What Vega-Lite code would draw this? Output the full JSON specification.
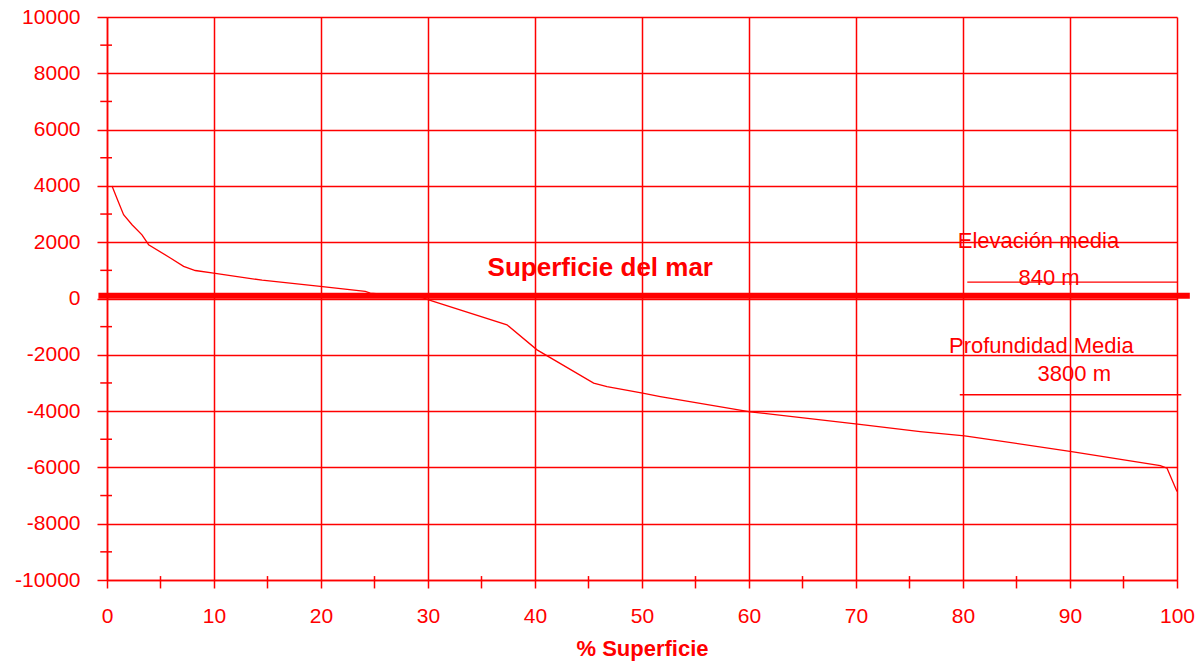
{
  "$schema": "https://vega.github.io/schema/vega-lite/v6.json",
  "width": 1070,
  "height": 563,
  "autosize": {"type": "none"},
  "padding": {"left": 107, "top": 17, "right": 18, "bottom": 83},
  "background": "white",
  "config": {"view": {"stroke": null}, "font": "Liberation Sans"},
  "datasets": {
    "hypsometric": [
      {"pct": 0.47, "elev": 4000},
      {"pct": 0.99, "elev": 3500},
      {"pct": 1.55, "elev": 2975},
      {"pct": 2.34, "elev": 2620},
      {"pct": 3.27, "elev": 2260},
      {"pct": 3.89, "elev": 1910},
      {"pct": 5.92, "elev": 1440},
      {"pct": 7.16, "elev": 1140},
      {"pct": 8.25, "elev": 995},
      {"pct": 9.96, "elev": 900},
      {"pct": 14.5, "elev": 650},
      {"pct": 19.93, "elev": 430},
      {"pct": 24.14, "elev": 250},
      {"pct": 24.6, "elev": 190},
      {"pct": 29.5, "elev": 30},
      {"pct": 30.06, "elev": -46},
      {"pct": 37.38, "elev": -935},
      {"pct": 40.19, "elev": -1824},
      {"pct": 45.48, "elev": -3007},
      {"pct": 46.73, "elev": -3128},
      {"pct": 50.06, "elev": -3362},
      {"pct": 51.71, "elev": -3483},
      {"pct": 60.12, "elev": -4027},
      {"pct": 70.15, "elev": -4464},
      {"pct": 76.0, "elev": -4727},
      {"pct": 80.15, "elev": -4880},
      {"pct": 90.15, "elev": -5438},
      {"pct": 98.44, "elev": -5936},
      {"pct": 99.07, "elev": -6028},
      {"pct": 100, "elev": -6860}
    ],
    "minorY": [
      {"v": -9000}, {"v": -7000}, {"v": -5000}, {"v": -3000}, {"v": -1000},
      {"v": 1000}, {"v": 3000}, {"v": 5000}, {"v": 7000}, {"v": 9000}
    ],
    "minorX": [
      {"v": 5}, {"v": 15}, {"v": 25}, {"v": 35}, {"v": 45},
      {"v": 55}, {"v": 65}, {"v": 75}, {"v": 85}, {"v": 95}
    ],
    "means": [
      {"x": 80.4, "x2": 100, "y": 580},
      {"x": 79.7, "x2": 100.4, "y": -3420}
    ],
    "notes": [
      {"x": 87.05, "y": 2030, "label": "Elevación media"},
      {"x": 88.04, "y": 740, "label": "840 m"},
      {"x": 87.32, "y": -1680, "label": "Profundidad Media"},
      {"x": 90.4, "y": -2680, "label": "3800 m"}
    ],
    "sea": [
      {"x": 46.1, "y": 1080, "label": "Superficie del mar", "x1": -0.8, "x2": 101.2, "level": 100}
    ]
  },
  "layer": [
    {
      "data": {"name": "hypsometric"},
      "mark": {"type": "line", "color": "#ff0000", "strokeWidth": 1.3},
      "encoding": {
        "x": {
          "field": "pct", "type": "quantitative",
          "scale": {"domain": [0, 100], "nice": false, "zero": false},
          "axis": {
            "values": [0, 10, 20, 30, 40, 50, 60, 70, 80, 90, 100],
            "grid": true, "gridColor": "#ff0000", "gridWidth": 1.5, "gridOpacity": 1,
            "domainColor": "#ff0000", "domainWidth": 1.5,
            "tickColor": "#ff0000", "tickSize": 8, "tickWidth": 1.5,
            "labelColor": "#ff0000", "labelFont": "Liberation Sans", "labelFontSize": 21,
            "labelPadding": 17, "labelFlush": false,
            "title": "% Superficie", "titleColor": "#ff0000", "titleFont": "Liberation Sans",
            "titleFontSize": 22, "titleFontWeight": "bold", "titlePadding": 12
          }
        },
        "y": {
          "field": "elev", "type": "quantitative",
          "scale": {"domain": [-10000, 10000], "nice": false, "zero": false},
          "axis": {
            "values": [-10000, -8000, -6000, -4000, -2000, 0, 2000, 4000, 6000, 8000, 10000],
            "labelExpr": "'' + datum.value",
            "grid": true, "gridColor": "#ff0000", "gridWidth": 1.5, "gridOpacity": 1,
            "domainColor": "#ff0000", "domainWidth": 1.5,
            "tickColor": "#ff0000", "tickSize": 10, "tickWidth": 1.5,
            "labelColor": "#ff0000", "labelFont": "Liberation Sans", "labelFontSize": 21,
            "labelPadding": 17, "labelFlush": false,
            "title": null
          }
        }
      }
    },
    {
      "data": {"name": "minorY"},
      "mark": {"type": "rule", "color": "#ff0000", "strokeWidth": 1.5},
      "encoding": {
        "y": {"field": "v", "type": "quantitative"},
        "x": {"datum": -0.63, "type": "quantitative"},
        "x2": {"datum": 0.47}
      }
    },
    {
      "data": {"name": "minorX"},
      "mark": {"type": "rule", "color": "#ff0000", "strokeWidth": 1.5},
      "encoding": {
        "x": {"field": "v", "type": "quantitative"},
        "y": {"datum": -10300, "type": "quantitative"},
        "y2": {"datum": -9860}
      }
    },
    {
      "data": {"name": "means"},
      "mark": {"type": "rule", "color": "#ff0000", "strokeWidth": 1.3},
      "encoding": {
        "x": {"field": "x", "type": "quantitative"},
        "x2": {"field": "x2"},
        "y": {"field": "y", "type": "quantitative"}
      }
    },
    {
      "data": {"name": "sea"},
      "mark": {"type": "rule", "color": "#ff0000", "strokeWidth": 6},
      "encoding": {
        "x": {"field": "x1", "type": "quantitative"},
        "x2": {"field": "x2"},
        "y": {"field": "level", "type": "quantitative"}
      }
    },
    {
      "data": {"name": "notes"},
      "mark": {"type": "text", "color": "#ff0000", "font": "Liberation Sans", "fontSize": 22, "align": "center", "baseline": "middle"},
      "encoding": {
        "x": {"field": "x", "type": "quantitative"},
        "y": {"field": "y", "type": "quantitative"},
        "text": {"field": "label"}
      }
    },
    {
      "data": {"name": "sea"},
      "mark": {"type": "text", "color": "#ff0000", "font": "Liberation Sans", "fontSize": 26, "fontWeight": "bold", "align": "center", "baseline": "middle"},
      "encoding": {
        "x": {"field": "x", "type": "quantitative"},
        "y": {"field": "y", "type": "quantitative"},
        "text": {"field": "label"}
      }
    }
  ]
}
